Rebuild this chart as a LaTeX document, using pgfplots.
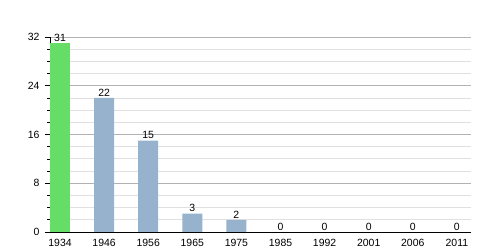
\documentclass[border=0pt]{standalone}
\usepackage{pgfplots}
\pgfplotsset{compat=1.18}
\usepackage{fontspec}
\setmainfont{Liberation Sans}
\definecolor{gbar}{RGB}{102,221,102}
\definecolor{bbar}{RGB}{151,178,204}
\begin{document}
\begin{tikzpicture}
\useasboundingbox (0,0) rectangle (500bp,250bp);
\begin{axis}[
  at={(50bp,18bp)}, anchor=south west,
  scale only axis, width=421bp, height=195bp,
  xmin=-0.227, xmax=9.32, ymin=0, ymax=32,
  axis x line*=bottom, axis y line*=left,
  axis line style={black, line width=0.9bp},
  ytick={0,8,16,24,32}, minor ytick={2,4,6,10,12,14,18,20,22,26,28,30},
  ymajorgrids, yminorgrids,
  major grid style={color=black!30, line width=0.8bp},
  minor grid style={color=black!12, line width=0.8bp},
  tick align=outside, major tick length=5bp, minor tick length=3bp,
  ytick style={black, line width=0.7bp},
  yticklabel style={xshift=-2bp},
  xtick={0,...,9},
  xticklabels={1934,1946,1956,1965,1975,1985,1992,2001,2006,2011},
  xtick style={draw=none},
  xticklabel style={yshift=1bp},
  ticklabel style={font=\fontsize{10.5}{12}\selectfont},
  /pgf/number format/assume math mode=true,
  ybar, bar width=20bp, bar shift=0pt,
  nodes near coords,
  every node near coord/.append style={font=\fontsize{10.5}{12}\selectfont, text=black, inner sep=1.5bp},
]
\addplot[draw=none, fill=gbar] coordinates {(0,31)};
\addplot[draw=none, fill=bbar] coordinates {(1,22) (2,15) (3,3) (4,2) (5,0) (6,0) (7,0) (8,0) (9,0)};
\end{axis}
\end{tikzpicture}
\end{document}
